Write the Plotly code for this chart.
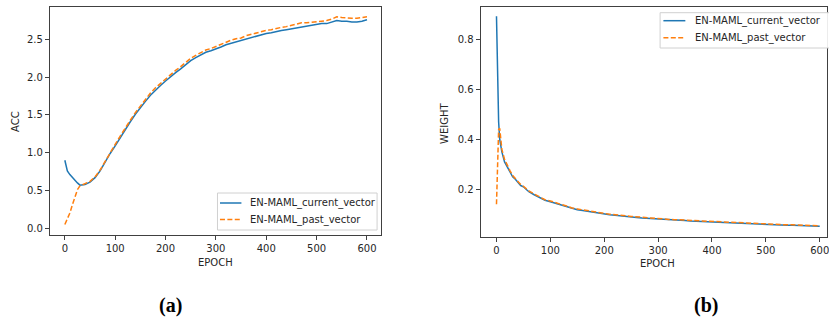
import plotly.graph_objects as go

# ---------------- data: panel (a) ----------------
acc_epochs = [0, 5, 10, 15, 20, 25, 30, 35, 40, 50, 60, 70, 80, 90, 100,
              110, 120, 130, 140, 150, 160, 170, 180, 190, 200, 210, 220, 230, 240, 250,
              260, 270, 280, 290, 300, 310, 320, 330, 340, 350, 360, 370, 380, 390, 400,
              410, 420, 430, 440, 450, 460, 470, 480, 490, 500, 510, 520, 530, 540, 550,
              560, 570, 580, 590, 600]
acc_current = [0.90, 0.76, 0.71, 0.67, 0.63, 0.60, 0.57, 0.57, 0.58, 0.61, 0.67, 0.76, 0.88, 0.99, 1.09,
               1.20, 1.31, 1.41, 1.51, 1.60, 1.68, 1.76, 1.83, 1.89, 1.95, 2.01, 2.06, 2.11, 2.17, 2.22,
               2.26, 2.30, 2.33, 2.35, 2.37, 2.40, 2.43, 2.45, 2.47, 2.48, 2.51, 2.53, 2.54, 2.56, 2.58,
               2.59, 2.61, 2.62, 2.63, 2.64, 2.66, 2.67, 2.68, 2.69, 2.70, 2.71, 2.71, 2.73, 2.75, 2.74,
               2.74, 2.73, 2.73, 2.74, 2.76]
acc_past = [0.05, 0.12, 0.20, 0.31, 0.42, 0.51, 0.56, 0.57, 0.59, 0.62, 0.68, 0.77, 0.89, 1.00, 1.11,
            1.22, 1.33, 1.43, 1.53, 1.62, 1.71, 1.79, 1.86, 1.92, 1.98, 2.04, 2.09, 2.14, 2.20, 2.25,
            2.29, 2.33, 2.36, 2.38, 2.41, 2.44, 2.47, 2.49, 2.51, 2.52, 2.55, 2.57, 2.58, 2.60, 2.62,
            2.63, 2.65, 2.66, 2.67, 2.69, 2.70, 2.72, 2.72, 2.73, 2.74, 2.75, 2.75, 2.77, 2.80, 2.79,
            2.78, 2.78, 2.78, 2.79, 2.80]

# ---------------- data: panel (b) ----------------
w_epochs = [0, 2, 4, 6, 8, 10, 15, 20, 25, 30, 35, 40, 45, 50, 55, 60, 70, 80, 90, 100,
            110, 120, 130, 140, 150, 160, 170, 180, 190, 200, 210, 220, 230, 240, 250,
            260, 270, 280, 290, 300, 310, 320, 330, 340, 350, 360, 370, 380, 390, 400,
            410, 420, 430, 440, 450, 460, 470, 480, 490, 500, 510, 520, 530, 540, 550,
            560, 570, 580, 590, 600]
w_current = [0.895, 0.66, 0.47, 0.40, 0.37, 0.35, 0.31, 0.29, 0.27, 0.25, 0.24, 0.225, 0.215, 0.21, 0.20, 0.19,
             0.178, 0.166, 0.156, 0.150, 0.143, 0.136, 0.131, 0.122, 0.118, 0.115, 0.111, 0.108, 0.104, 0.101,
             0.098, 0.096, 0.093, 0.091, 0.089, 0.087, 0.085, 0.084, 0.082, 0.080, 0.079, 0.077, 0.076, 0.075,
             0.074, 0.072, 0.071, 0.070, 0.068, 0.067, 0.066, 0.065, 0.064, 0.064, 0.062, 0.061, 0.061, 0.060,
             0.059, 0.058, 0.058, 0.057, 0.056, 0.055, 0.055, 0.054, 0.053, 0.053, 0.052, 0.051]
w_past = [0.14, 0.30, 0.44, 0.445, 0.40, 0.36, 0.32, 0.295, 0.275, 0.255, 0.243, 0.228, 0.219, 0.212, 0.203, 0.193,
          0.181, 0.169, 0.158, 0.153, 0.145, 0.139, 0.133, 0.125, 0.121, 0.117, 0.113, 0.110, 0.106, 0.103,
          0.100, 0.097, 0.095, 0.093, 0.091, 0.089, 0.087, 0.086, 0.084, 0.082, 0.081, 0.079, 0.078, 0.077,
          0.076, 0.074, 0.073, 0.072, 0.070, 0.069, 0.068, 0.067, 0.066, 0.066, 0.064, 0.063, 0.063, 0.062,
          0.061, 0.060, 0.060, 0.059, 0.058, 0.057, 0.057, 0.056, 0.055, 0.055, 0.054, 0.053]

names = ["EN-MAML_current_vector", "EN-MAML_past_vector"]
acc_xticks = [0, 100, 200, 300, 400, 500, 600]
acc_yticks = [0.0, 0.5, 1.0, 1.5, 2.0, 2.5]
w_yticks = [0.2, 0.4, 0.6, 0.8]

BLUE = "#1f77b4"
ORANGE = "#ff7f0e"
W, H = 829, 320
FONT = "DejaVu Sans"
TXT = "#262626"
DASH = "5px,2.4px"

fig = go.Figure()
fig.add_trace(go.Scatter(x=acc_epochs, y=acc_current, mode="lines", name=names[0],
                         line=dict(color=BLUE, width=1.5), xaxis="x", yaxis="y"))
fig.add_trace(go.Scatter(x=acc_epochs, y=acc_past, mode="lines", name=names[1],
                         line=dict(color=ORANGE, width=1.5, dash=DASH), xaxis="x", yaxis="y"))
fig.add_trace(go.Scatter(x=w_epochs, y=w_current, mode="lines", name=names[0],
                         line=dict(color=BLUE, width=1.5), xaxis="x2", yaxis="y2"))
fig.add_trace(go.Scatter(x=w_epochs, y=w_past, mode="lines", name=names[1],
                         line=dict(color=ORANGE, width=1.5, dash=DASH), xaxis="x2", yaxis="y2"))

axis_common = dict(showgrid=False, zeroline=False, showline=True, linecolor="#404040", linewidth=1,
                   mirror=True, ticks="outside", ticklen=4, tickcolor="#404040",
                   ticklabeloverflow="allow",
                   tickfont=dict(family=FONT, size=10, color=TXT))

fig.update_layout(
    width=W, height=H, margin=dict(l=0, r=0, t=0, b=0),
    paper_bgcolor="white", plot_bgcolor="white",
    xaxis=dict(domain=[50 / W, 382 / W], range=[-29.7, 628], tickvals=acc_xticks, anchor="y",
               **axis_common),
    yaxis=dict(domain=[1 - 235 / H, 1 - 7 / H], range=[-0.09, 2.93], tickvals=acc_yticks,
               tickformat=".1f", anchor="x", **axis_common),
    xaxis2=dict(domain=[481.7 / W, 1.0], range=[-29.6, 613.5], tickvals=acc_xticks, anchor="y2",
                **axis_common),
    yaxis2=dict(domain=[1 - 237.3 / H, 1 - 7.3 / H], range=[0.007, 0.931], tickvals=w_yticks,
                tickformat=".1f", anchor="x2", **axis_common),
    showlegend=False,
)

ann = []
shapes = []

def label(text, x, y, angle=0, size=10, family=FONT, bold=False, xanchor="center"):
    ann.append(dict(text=f"<b>{text}</b>" if bold else text, x=x / W, y=1 - y / H,
                    xref="paper", yref="paper", showarrow=False, textangle=angle,
                    xanchor=xanchor, yanchor="middle",
                    font=dict(family=family, size=size, color="black" if bold else TXT)))

def legend_box(x0, y0, x1, y1, line_x0, line_x1, text_x, row_ys):
    shapes.append(dict(type="rect", xref="paper", yref="paper",
                       x0=x0 / W, x1=x1 / W, y0=1 - y1 / H, y1=1 - y0 / H,
                       line=dict(color="#d0d0d0", width=1), fillcolor="rgba(255,255,255,0.9)",
                       layer="above"))
    for name, col, dash, ry in zip(names, [BLUE, ORANGE], ["solid", DASH], row_ys):
        shapes.append(dict(type="line", xref="paper", yref="paper",
                           x0=line_x0 / W, x1=line_x1 / W, y0=1 - ry / H, y1=1 - ry / H,
                           line=dict(color=col, width=1.5, dash=dash), layer="above"))
        label(name, text_x, ry, size=10, xanchor="left")

legend_box(218, 193, 378, 230, 220.5, 242, 248.5, [203, 219.5])
legend_box(661.7, 12.7, 840, 48, 665, 687, 694.5, [20.7, 37.7])

label("ACC", 15, 121, angle=-90)
label("EPOCH", 216, 262)
label("WEIGHT", 445, 123, angle=-90)
label("EPOCH", 659, 263)
label("(a)", 171, 305, size=20, family="Liberation Serif", bold=True)
label("(b)", 708, 305, size=20, family="Liberation Serif", bold=True)
fig.update_layout(annotations=ann, shapes=shapes)

fig.write_html("out.html", config={"displayModeBar": False},
               post_script="document.body.style.margin='0';document.body.style.padding='0';")
